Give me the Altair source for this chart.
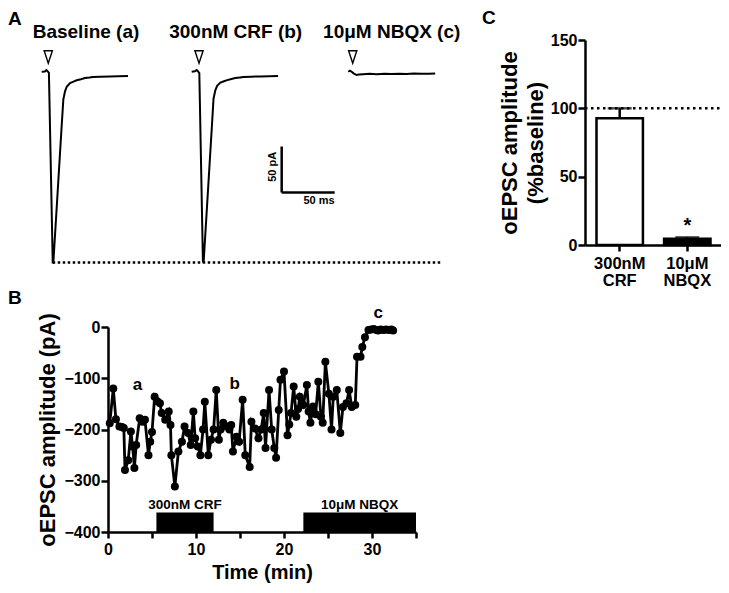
import altair as alt
import pandas as pd

FONT = "Liberation Sans"
BOLD = "bold"

# ---------------- Panel A: example sweeps ----------------
sweep_names = ["Baseline (a)", "300nM CRF (b)", "10\u03bcM NBQX (c)"]
sweep_start_ms = [0.0, 141.5, 289.2]

trace_a_ms = [0, 3.0, 4.5, 5.5, 6.8, 10.4, 11.0, 18.6, 20.4, 22.0, 23.6, 26.7, 30.0, 33.0,
              37.0, 40.8, 45.0, 48.4, 55.0, 64.4, 72.0, 81.4]
trace_a_pa = [0.3, 0.5, 2.0, 1.0, -1.0, -207, -207, -63, -30, -21, -16, -12, -10.5, -9,
              -7.8, -6.5, -6.0, -5.4, -5.2, -4.9, -4.6, -4.3]
trace_b_ms = [0, 3.0, 4.7, 5.8, 7.2, 10.6, 11.3, 18.9, 20.6, 22.3, 24.0, 27.0, 30.5, 33.5,
              37.5, 41.0, 45.5, 49.0, 56.0, 65.0, 73.0, 81.5]
trace_b_pa = [0.3, 0.8, 2.2, 1.0, -1.2, -206, -206, -62, -29, -20, -15, -11.5, -10, -8.8,
              -7.6, -6.6, -6.0, -5.5, -5.1, -4.8, -4.6, -4.4]
trace_c_ms = [0, 1.5, 3.0, 5.0, 7.9, 10, 14, 20, 27, 34, 41, 48, 55, 62, 69, 76, 82]
trace_c_pa = [0.3, 1.4, 0.5, -1.5, -3.3, -2.8, -2.5, -2.0, -2.4, -1.8, -2.2, -1.9, -2.3,
              -1.7, -2.0, -1.8, -1.5]
stim_ms = [6.2, 148.4, 293.4]          # stimulus arrowheads
baseline_peak_pa = -207                # dotted reference at baseline peak
scalebar_ms = 50
scalebar_pa = 50

# ---------------- Panel B: time course ----------------
time_min = [0.2, 0.6, 0.9, 1.3, 1.6, 1.8, 1.93, 2.3, 2.6, 2.8, 3.0, 3.2, 3.6, 3.9, 4.2, 4.6,
            4.8, 5.0, 5.3, 5.6, 5.9, 6.1, 6.5, 6.9, 7.1, 7.2, 7.6, 8.0, 8.4, 8.7, 9.1, 9.4,
            9.7, 9.9, 10.2, 10.5, 10.8, 11.0, 11.4, 11.7, 12.0, 12.3, 12.6, 12.8, 13.1, 13.5,
            13.8, 14.0, 14.2, 14.6, 14.9, 15.3, 15.6, 16.1, 16.3, 16.7, 17.1, 17.4, 17.7,
            17.9, 18.3, 18.6, 18.9, 19.1, 19.4, 19.6, 20.0, 20.4, 20.6, 20.8, 21.1, 21.4,
            21.6, 21.8, 22.2, 22.6, 22.8, 23.0, 23.3, 23.6, 23.9, 24.2, 24.4, 24.7, 25.1,
            25.4, 25.6, 26.0, 26.4, 26.7, 27.1, 27.4, 27.7, 28.1, 28.3, 28.7, 28.9, 29.2,
            29.6, 29.9, 30.2, 30.5, 30.7, 31.0, 31.3, 31.6, 31.9, 32.2, 32.4]
amp_pa = [-188, -120, -180, -194, -195, -197, -279, -260, -204, -233, -275, -230, -178, -185,
          -181, -250, -224, -205, -136, -145, -149, -168, -181, -165, -191, -250, -311, -243,
          -224, -194, -207, -230, -165, -217, -233, -250, -200, -146, -250, -220, -200, -123,
          -220, -200, -187, -194, -200, -191, -243, -214, -224, -142, -250, -273, -185, -198,
          -217, -200, -168, -236, -123, -200, -236, -255, -162, -103, -87, -211, -190, -168,
          -116, -175, -160, -136, -152, -113, -165, -187, -155, -170, -107, -175, -187, -68,
          -130, -200, -136, -123, -207, -156, -149, -123, -156, -152, -58, -58, -39, -20, -6,
          -5, -4, -6, -7, -5, -6, -5, -6, -5, -7]
treat_names = ["300nM CRF", "10\u03bcM NBQX"]
treat_start = [5.5, 22.2]
treat_end = [12.0, 35.0]
mark_labels = ["a", "b", "c"]
mark_t = [3.35, 14.4, 30.7]
mark_v = [-113, -111, 27]

# ---------------- Panel C: summary ----------------
c_groups = ["300nM CRF", "10\u03bcM NBQX"]
c_mean = [92.7, 4.6]
c_sem = [7.3, 1.0]

# ---------------- layout (pixels inside the 713x577 canvas) ----------------
W, H = 713, 577
A_X = [33.7, 457.7]      # 0..400 ms
A_Y = [248, 64]          # -200..0 pA
B_X = [100, 408]
B_Y = [524, 319]
C_X = [577, 714]
C_Y = [237, 32]


def txt(size, **kw):
    return dict(fontSize=size, fontWeight=BOLD, font=FONT, color="black", **kw)


# ======== Panel A ========
rows = []
for name, off, ts, vs in zip(sweep_names, sweep_start_ms,
                             [trace_a_ms, trace_b_ms, trace_c_ms],
                             [trace_a_pa, trace_b_pa, trace_c_pa]):
    for k, (t, v) in enumerate(zip(ts, vs)):
        rows.append({"sweep": name, "k": k, "ta": off + t, "ia": v})
traces = pd.DataFrame(rows)

xA_scale = alt.Scale(domain=[0, 400], range=A_X, nice=False, zero=False)
yA_scale = alt.Scale(domain=[-200, 0], range=A_Y, nice=False, zero=False)


def xa(field="ta"):
    return alt.X(field, type="quantitative", scale=xA_scale, axis=None)


def ya(field="ia"):
    return alt.Y(field, type="quantitative", scale=yA_scale, axis=None)


trace_lines = alt.Chart(traces).mark_line(color="black", strokeWidth=2).encode(
    x=xa(), y=ya(), detail="sweep:N", order="k:Q")

peak_t = sweep_start_ms[0] + trace_a_ms[trace_a_pa.index(min(trace_a_pa))]
dotted = alt.Chart(pd.DataFrame({"ta": [peak_t], "ta2": [377.4], "ia": [baseline_peak_pa]})).mark_rule(
    color="black", strokeWidth=2.5, strokeDash=[2.5, 2.5]).encode(x=xa(), x2="ta2:Q", y=ya())

stims = alt.Chart(pd.DataFrame({"ta": stim_ms, "ia": [16.3] * 3})).mark_point(
    shape="M-0.65,-1L0.65,-1L0,1Z", size=160, filled=False, color="black", strokeWidth=1.4,
    opacity=1).encode(x=xa(), y=ya())

title_centres = [41.8, 183.0, 330.2]
sweep_titles = alt.Chart(pd.DataFrame({"ta": title_centres, "ia": [44] * 3, "s": sweep_names})).mark_text(
    **txt(19, align="center", baseline="middle")).encode(x=xa(), y=ya(), text="s:N")

sb_t0, sb_i0 = 226.4, -131.0
sb_v = alt.Chart(pd.DataFrame({"ta": [sb_t0], "ia": [sb_i0], "ia2": [sb_i0 + scalebar_pa]})).mark_rule(
    color="black", strokeWidth=2.5).encode(x=xa(), y=ya(), y2="ia2:Q")
sb_h = alt.Chart(pd.DataFrame({"ta": [sb_t0], "ta2": [sb_t0 + scalebar_ms], "ia": [sb_i0]})).mark_rule(
    color="black", strokeWidth=2.5).encode(x=xa(), x2="ta2:Q", y=ya())
sb_lab_pa = alt.Chart(pd.DataFrame({"ta": [218.3], "ia": [-103], "s": [f"{scalebar_pa} pA"]})).mark_text(
    **txt(11, angle=270, align="center", baseline="middle")).encode(x=xa(), y=ya(), text="s:N")
sb_lab_ms = alt.Chart(pd.DataFrame({"ta": [261.6], "ia": [-140], "s": [f"{scalebar_ms} ms"]})).mark_text(
    **txt(11, align="center", baseline="middle")).encode(x=xa(), y=ya(), text="s:N")

panelA = alt.layer(trace_lines, dotted, stims, sweep_titles, sb_v, sb_h, sb_lab_pa, sb_lab_ms)

# ======== Panel B ========
dfB = pd.DataFrame({"tb": time_min, "vb": amp_pa})
xB = alt.X("tb:Q", scale=alt.Scale(domain=[0, 35], range=B_X, nice=False, zero=False),
           axis=alt.Axis(orient="bottom", offset=B_Y[0] - H,
                         values=[0, 5, 10, 15, 20, 25, 30, 35], title="Time (min)",
                         labelExpr="datum.value % 10 === 0 ? datum.label : ''",
                         labelFlush=False, labelOverlap=False,
                         labelFontSize=16, titleFontSize=20, tickSize=6, labelPadding=3,
                         titlePadding=5))
yB = alt.Y("vb:Q", scale=alt.Scale(domain=[-400, 0], range=B_Y, nice=False, zero=False),
           axis=alt.Axis(orient="left", offset=-B_X[0],
                         values=[-400, -300, -200, -100, 0], title="oEPSC amplitude (pA)",
                         labelFlush=False, labelOverlap=False,
                         labelFontSize=16, titleFontSize=22, tickSize=7, labelPadding=1,
                         titlePadding=4))
lineB = alt.Chart(dfB).mark_line(color="black", strokeWidth=2.8).encode(x=xB, y=yB)
dotsB = alt.Chart(dfB).mark_circle(color="black", size=64, opacity=1).encode(x="tb:Q", y="vb:Q")
dfT = pd.DataFrame({"name": treat_names, "s": treat_start, "e": treat_end})
rectB = alt.Chart(dfT).mark_rect(color="black").encode(
    x=alt.X("s:Q"), x2="e:Q", y=alt.Y(datum=-400), y2=alt.Y2(datum=-362))
treatLab = alt.Chart(dfT).transform_calculate(mid="(datum.s + datum.e) / 2").mark_text(
    **txt(13.5, baseline="middle")).encode(x="mid:Q", y=alt.Y(datum=-347), text="name:N")
markLab = alt.Chart(pd.DataFrame({"tb": mark_t, "vb": mark_v, "s": mark_labels})).mark_text(
    **txt(17, baseline="middle")).encode(x="tb:Q", y="vb:Q", text="s:N")
panelB = alt.layer(lineB, dotsB, rectB, treatLab, markLab)

# ======== Panel C ========
dfC = pd.DataFrame({"g": c_groups, "m": c_mean,
                    "hi": [m + s for m, s in zip(c_mean, c_sem)]})
xC = alt.X("g:N", sort=c_groups,
           scale=alt.Scale(range=C_X, paddingInner=0.313, paddingOuter=0.17),
           axis=alt.Axis(orient="bottom", offset=C_Y[0] - H, title=None, labelAngle=0,
                         labelExpr="split(datum.label, ' ')", labelFontSize=16.5,
                         labelLineHeight=17, tickSize=6, labelPadding=4))
yC = alt.Y("m:Q", scale=alt.Scale(domain=[0, 150], range=C_Y, nice=False),
           axis=alt.Axis(orient="left", offset=-C_X[0], values=[0, 50, 100, 150],
                         title=["oEPSC amplitude", "(%baseline)"],
                         titleFontSize=22, titleLineHeight=26, titlePadding=3,
                         labelFontSize=16, tickSize=7, labelPadding=1))
barsC = alt.Chart(dfC).mark_bar(stroke="black", strokeWidth=2.5).encode(
    x=xC, y=yC,
    fill=alt.Fill("g:N", scale=alt.Scale(domain=c_groups, range=["white", "black"]), legend=None))
errC = alt.Chart(dfC).mark_rule(color="black", strokeWidth=2.5).encode(
    x=alt.X("g:N", sort=c_groups), y="m:Q", y2="hi:Q")
capC = alt.Chart(dfC).mark_tick(color="black", thickness=2.5, size=24, orient="horizontal").encode(
    x=alt.X("g:N", sort=c_groups), y="hi:Q")
refC = alt.Chart(pd.DataFrame({"ref": [100]})).mark_rule(
    color="black", strokeWidth=2.5, strokeDash=[2.5, 3.5]).encode(
    y="ref:Q", x=alt.value(C_X[0]), x2=alt.value(C_X[1] - 2))
starC = alt.Chart(pd.DataFrame({"g": [c_groups[1]], "y": [14], "s": ["*"]})).mark_text(
    **txt(20, baseline="middle")).encode(x=alt.X("g:N", sort=c_groups), y="y:Q", text="s:N")
panelC = alt.layer(barsC, errC, capC, refC, starC)

# ======== panel letters ========
letters = alt.Chart(pd.DataFrame({"s": ["A", "B", "C"], "px": [0, 0, 474],
                                  "py": [10.5, 290, 10]})).mark_text(
    **txt(19, align="left", baseline="middle")).encode(
    x=alt.X("px:Q", scale=alt.Scale(domain=[0, W], range=[0, W]), axis=None),
    y=alt.Y("py:Q", scale=alt.Scale(domain=[0, H], range=[0, H]), axis=None),
    text="s:N")

chart = alt.layer(panelA, panelB, panelC, letters).resolve_scale(
    x="independent", y="independent").properties(
    width=W, height=H, padding=0, autosize=alt.AutoSizeParams(type="none")).configure(
    font=FONT).configure_view(stroke=None).configure_axis(
    domainColor="black", tickColor="black", labelColor="black", titleColor="black",
    labelFont=FONT, titleFont=FONT, labelFontWeight=BOLD, titleFontWeight=BOLD,
    grid=False, domainWidth=2.5, tickWidth=2.5)

chart.save("out.html", embed_options={"renderer": "svg", "actions": False})
